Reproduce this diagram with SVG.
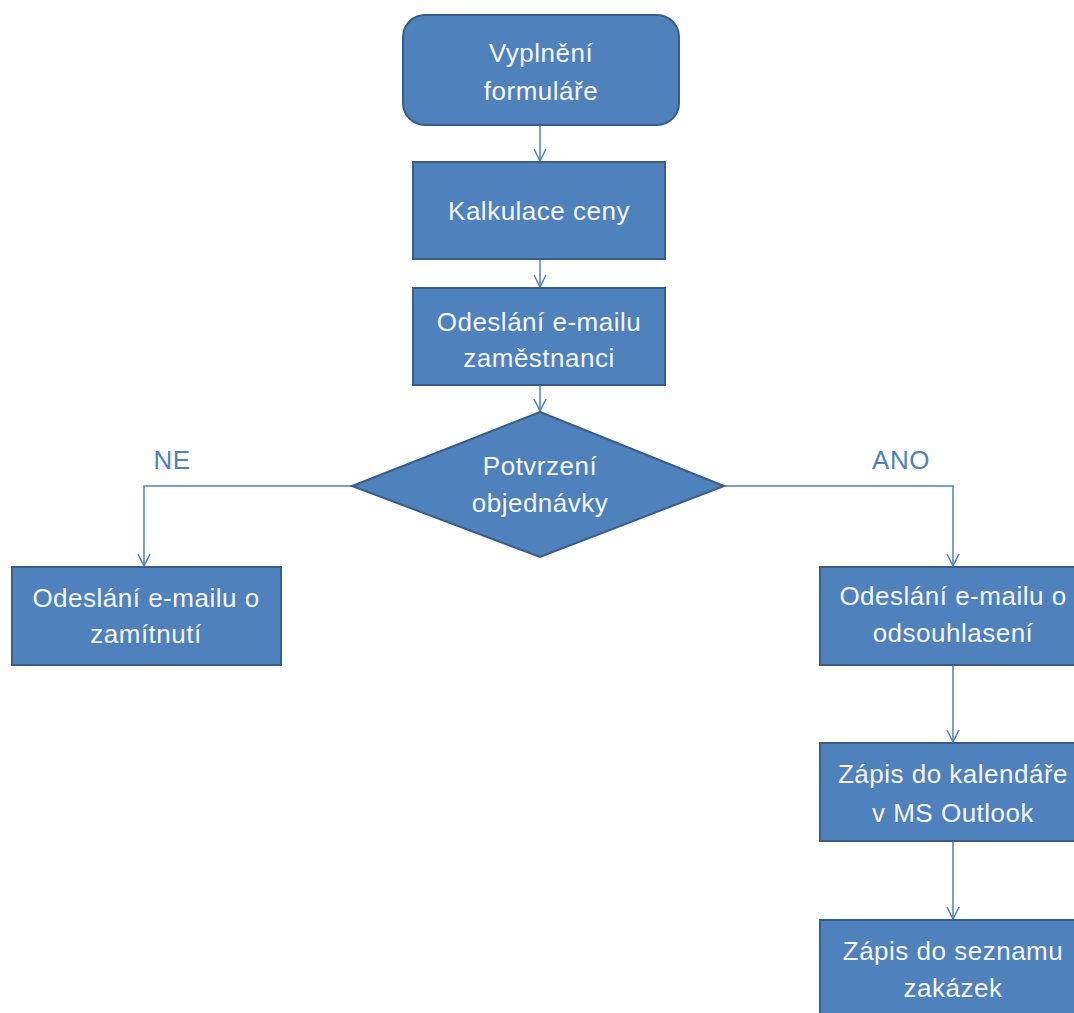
<svg xmlns="http://www.w3.org/2000/svg" width="1074" height="1013" viewBox="0 0 1074 1013">
  <style>
    .box { fill: #4F81BD; stroke: #385D8A; stroke-width: 2; }
    .lbl { font-family: "Liberation Sans", Arial, sans-serif; font-size: 26px; letter-spacing: 0.5px; fill: #F4F6FA; text-anchor: middle; }
    .tag { font-family: "Liberation Sans", Arial, sans-serif; font-size: 26px; letter-spacing: 0.5px; fill: #4F81BD; text-anchor: middle; }
    .wire { fill: none; stroke: #4F81BD; stroke-width: 1.5; }
  </style>
  <defs>
    <marker id="open" viewBox="0 0 16 16" refX="14" refY="8" markerWidth="16" markerHeight="16" markerUnits="userSpaceOnUse" orient="auto">
      <path d="M2,2 L14,8 L2,14" fill="none" stroke="#4F81BD" stroke-width="1.5"/>
    </marker>
  </defs>
  <rect width="1074" height="1013" fill="#FFFFFF"/>

  <g id="connectors">
    <line class="wire" x1="540" y1="126" x2="540" y2="161" marker-end="url(#open)"/>
    <line class="wire" x1="540" y1="260" x2="540" y2="287" marker-end="url(#open)"/>
    <line class="wire" x1="540" y1="386" x2="540" y2="411" marker-end="url(#open)"/>
    <polyline class="wire" points="352,486 144,486 144,566" marker-end="url(#open)"/>
    <polyline class="wire" points="724,486 953,486 953,566" marker-end="url(#open)"/>
    <line class="wire" x1="953" y1="666" x2="953" y2="742" marker-end="url(#open)"/>
    <line class="wire" x1="953" y1="842" x2="953" y2="919" marker-end="url(#open)"/>
    <text class="tag" x="172" y="469">NE</text>
    <text class="tag" x="901" y="469">ANO</text>
  </g>

  <g id="n-vyplneni">
    <rect class="box" x="403" y="15" width="276" height="110" rx="22"/>
    <text class="lbl" x="541" y="62">Vyplnění</text>
    <text class="lbl" x="541" y="100">formuláře</text>
  </g>

  <g id="n-kalkulace">
    <rect class="box" x="413" y="162" width="252" height="97"/>
    <text class="lbl" x="539" y="220">Kalkulace ceny</text>
  </g>

  <g id="n-email-zamestnanci">
    <rect class="box" x="413" y="288" width="252" height="97"/>
    <text class="lbl" x="539" y="331">Odeslání e-mailu</text>
    <text class="lbl" x="539" y="367">zaměstnanci</text>
  </g>

  <g id="n-potvrzeni">
    <polygon class="box" points="540,412 724,486 540,557 352,486"/>
    <text class="lbl" x="540" y="475">Potvrzení</text>
    <text class="lbl" x="540" y="512">objednávky</text>
  </g>

  <g id="n-zamitnuti">
    <rect class="box" x="12" y="567" width="269" height="98"/>
    <text class="lbl" x="146" y="607">Odeslání e-mailu o</text>
    <text class="lbl" x="146" y="643">zamítnutí</text>
  </g>

  <g id="n-odsouhlaseni">
    <rect class="box" x="820" y="567" width="266" height="98"/>
    <text class="lbl" x="953" y="605">Odeslání e-mailu o</text>
    <text class="lbl" x="953" y="642">odsouhlasení</text>
  </g>

  <g id="n-kalendar">
    <rect class="box" x="820" y="743" width="266" height="98"/>
    <text class="lbl" x="953" y="783">Zápis do kalendáře</text>
    <text class="lbl" x="953" y="822">v MS Outlook</text>
  </g>

  <g id="n-zakazky">
    <rect class="box" x="820" y="920" width="266" height="110"/>
    <text class="lbl" x="953" y="960">Zápis do seznamu</text>
    <text class="lbl" x="953" y="997">zakázek</text>
  </g>
</svg>
